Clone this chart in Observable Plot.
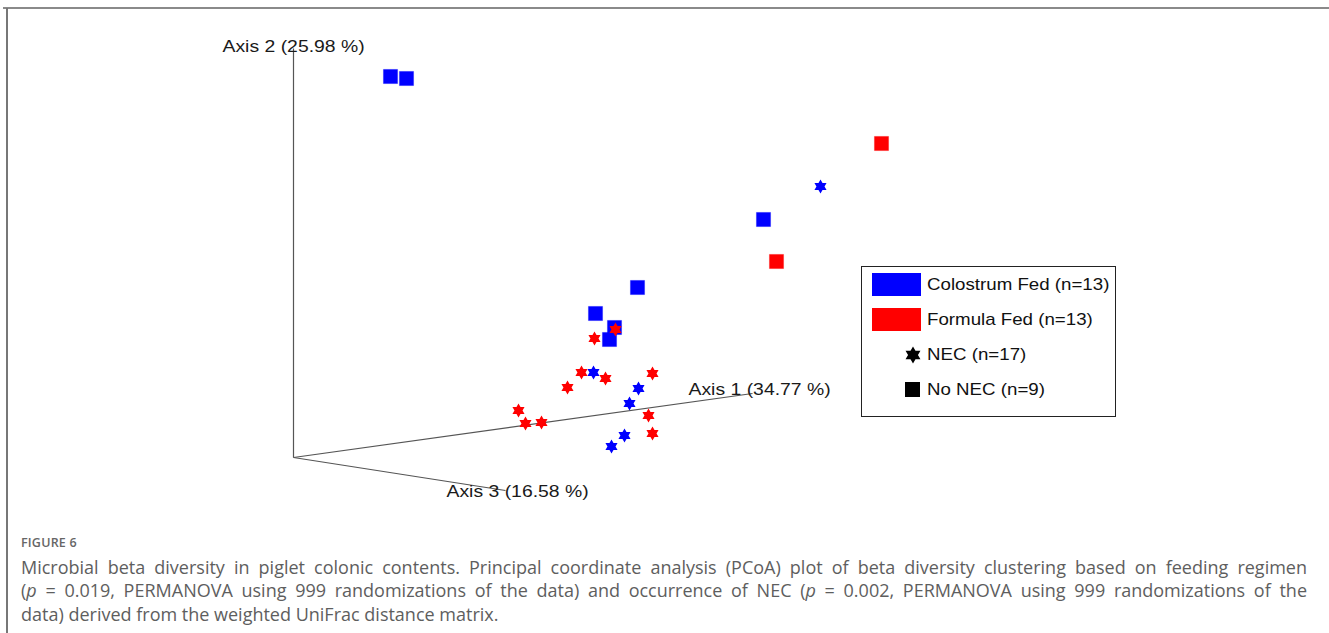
<!DOCTYPE html>
<html>
<head>
<meta charset="utf-8">
<script src="https://cdn.jsdelivr.net/npm/d3@7"></script>
<script src="https://cdn.jsdelivr.net/npm/@observablehq/plot@0.6"></script>
<style>
  html, body { margin: 0; padding: 0; background: #fff; }
  #page { position: relative; width: 1329px; height: 633px; overflow: hidden; background: #fff; }
  #topline { position: absolute; left: 3px; right: 0; top: 7px; height: 2px; background: #8a8a8a; }
  #leftline { position: absolute; left: 6px; top: 8px; bottom: 0; width: 1.5px; background: #777; }
  #chart { position: absolute; left: 0; top: 0; }
  #legend { position: absolute; left: 861px; top: 266px; width: 253px; height: 149px; border: 1.5px solid #222; background: #fff;
            font-family: "Liberation Sans", Arial, sans-serif; font-size: 17px; color: #111; }
  .item { position: absolute; left: 0; height: 24px; display: flex; align-items: center; }
  .lab { position: absolute; left: 65px; white-space: nowrap; transform: scaleX(1.1); transform-origin: 0 50%; }
  #caption { position: absolute; left: 21px; top: 533px; width: 1286px; font-family: "Open Sans", sans-serif; color: #5e5e5e; }
  #fig { font-size: 12.5px; font-weight: 600; line-height: 20px; letter-spacing: 0.2px; color: #666; }
  .ln { font-size: 18px; line-height: 23.5px; text-align: justify; text-align-last: justify; white-space: nowrap; }
  .ln.last { text-align-last: left; }
  #body { margin-top: 2.5px; }
</style>
</head>
<body>
<div id="page">
  <div id="topline"></div>
  <div id="leftline"></div>
  <div id="chart"></div>
  <div id="legend"></div>
  <div id="caption">
    <div id="fig">FIGURE 6</div>
    <div id="body">
      <div class="ln">Microbial beta diversity in piglet colonic contents. Principal coordinate analysis (PCoA) plot of beta diversity clustering based on feeding regimen</div>
      <div class="ln">(<i>p</i> = 0.019, PERMANOVA using 999 randomizations of the data) and occurrence of NEC (<i>p</i> = 0.002, PERMANOVA using 999 randomizations of the</div>
      <div class="ln last">data) derived from the weighted UniFrac distance matrix.</div>
    </div>
  </div>
</div>
<script>
// Projected PCoA coordinates of each sample (arbitrary projected units)
const sampleX = [0.97, 1.13, 4.70, 3.44, 3.02, 3.21, 3.16,
                 5.88, 4.83,
                 5.27, 3.00, 3.45, 3.36, 3.31, 3.18,
                 3.01, 3.22, 2.88, 3.12, 2.74, 3.59, 2.25, 2.32, 2.48, 3.55, 3.59];
const sampleY = [3.81, 3.79, 2.38, 1.70, 1.44, 1.30, 1.18,
                 3.14, 1.96,
                 2.71, 0.85, 0.69, 0.54, 0.22, 0.11,
                 1.19, 1.28, 0.85, 0.79, 0.70, 0.84, 0.47, 0.34, 0.35, 0.42, 0.24];
const feeding = ["Colostrum Fed","Colostrum Fed","Colostrum Fed","Colostrum Fed","Colostrum Fed","Colostrum Fed","Colostrum Fed",
                 "Formula Fed","Formula Fed",
                 "Colostrum Fed","Colostrum Fed","Colostrum Fed","Colostrum Fed","Colostrum Fed","Colostrum Fed",
                 "Formula Fed","Formula Fed","Formula Fed","Formula Fed","Formula Fed","Formula Fed","Formula Fed","Formula Fed","Formula Fed","Formula Fed","Formula Fed"];
const nec = ["No NEC","No NEC","No NEC","No NEC","No NEC","No NEC","No NEC",
             "No NEC","No NEC",
             "NEC","NEC","NEC","NEC","NEC","NEC",
             "NEC","NEC","NEC","NEC","NEC","NEC","NEC","NEC","NEC","NEC","NEC"];

// Projected ordination axes (origin at 0,0)
const axisNames = ["Axis 1 (34.77 %)", "Axis 2 (25.98 %)", "Axis 3 (16.58 %)"];
const axisEndX = [4.59, 0, 2.12];
const axisEndY = [0.64, 4.09, -0.33];
const axisLabelX = [3.95, -0.71, 1.53];
const axisLabelY = [0.68, 4.11, -0.34];

const legendFeeding = ["Colostrum Fed (n=13)", "Formula Fed (n=13)"];
const legendNec = ["NEC (n=17)", "No NEC (n=9)"];

const groupColors = {"Colostrum Fed": "#0000ff", "Formula Fed": "#ff0000"};

const samples = sampleX.map((x, i) => ({x, y: sampleY[i], feeding: feeding[i], nec: nec[i]}));
const axes = axisNames.map((name, i) => ({name, x2: axisEndX[i], y2: axisEndY[i], lx: axisLabelX[i], ly: axisLabelY[i]}));

// six-pointed star
const hexagram = {
  draw(context, size) {
    const R = Math.sqrt(size / Math.PI);
    const r = R * 0.577;
    for (let k = 0; k < 12; k++) {
      const a = -Math.PI / 2 + k * Math.PI / 6;
      const rr = k % 2 === 0 ? R : r;
      const px = rr * Math.cos(a), py = rr * Math.sin(a);
      if (k === 0) context.moveTo(px, py); else context.lineTo(px, py);
    }
    context.closePath();
  }
};

const chart = Plot.plot({
  width: 1329,
  height: 525,
  margin: 0,
  x: {type: "linear", domain: [-2.93, 10.36], range: [0, 1329], axis: null},
  y: {type: "linear", domain: [4.57, -0.68], range: [0, 525], axis: null},
  style: {background: "transparent", fontFamily: "'Liberation Sans', Arial, sans-serif"},
  marks: [
    Plot.link(axes, {x1: 0, y1: 0, x2: "x2", y2: "y2", stroke: "#555", strokeWidth: 1.2}),
    Plot.dot(samples.filter(d => d.nec === "No NEC"), {x: "x", y: "y", symbol: "square", r: 8,
      fill: d => groupColors[d.feeding], stroke: d => groupColors[d.feeding], strokeOpacity: 0.5, strokeWidth: 0.6}),
    Plot.dot(samples.filter(d => d.nec === "NEC"), {x: "x", y: "y", symbol: hexagram, r: 7,
      fill: d => groupColors[d.feeding], stroke: "none"}),
    Plot.text(axes, {x: "lx", y: "ly", text: "name", textAnchor: "start", fontSize: 17, fill: "#1a1a1a"})
  ]
});
document.getElementById("chart").appendChild(chart);
// widen the axis labels slightly to match the original's letterforms
d3.select(chart).selectAll("text").each(function () {
  const w = this.getComputedTextLength();
  this.setAttribute("textLength", (w * 1.14).toFixed(1));
  this.setAttribute("lengthAdjust", "spacingAndGlyphs");
});

// legend
const legend = document.getElementById("legend");
const rowTops = [7, 42, 77, 112];
legendFeeding.forEach((label, i) => {
  const color = i === 0 ? "#0000ff" : "#ff0000";
  const item = document.createElement("div");
  item.className = "item";
  item.style.top = (rowTops[i] - 1) + "px";
  item.innerHTML = `<div style="position:absolute;left:10px;top:0;width:49px;height:23px;background:${color}"></div><span class="lab" style="top:2px">${label}</span>`;
  legend.appendChild(item);
});
legendNec.forEach((label, j) => {
  const i = j + 2;
  const item = document.createElement("div");
  item.className = "item";
  item.style.top = (rowTops[i] - 1) + "px";
  const icon = j === 0
    ? (() => { const s = d3.path(); hexagram.draw(s, 8.6 * 8.6 * Math.PI); return `<svg width="20" height="20" style="position:absolute;left:41px;top:2px"><path transform="translate(10,10)" d="${s.toString()}" fill="#000"/></svg>`; })()
    : `<div style="position:absolute;left:43px;top:4px;width:15px;height:15px;background:#000"></div>`;
  item.innerHTML = icon + `<span class="lab" style="top:2px">${label}</span>`;
  legend.appendChild(item);
});
</script>
</body>
</html>
